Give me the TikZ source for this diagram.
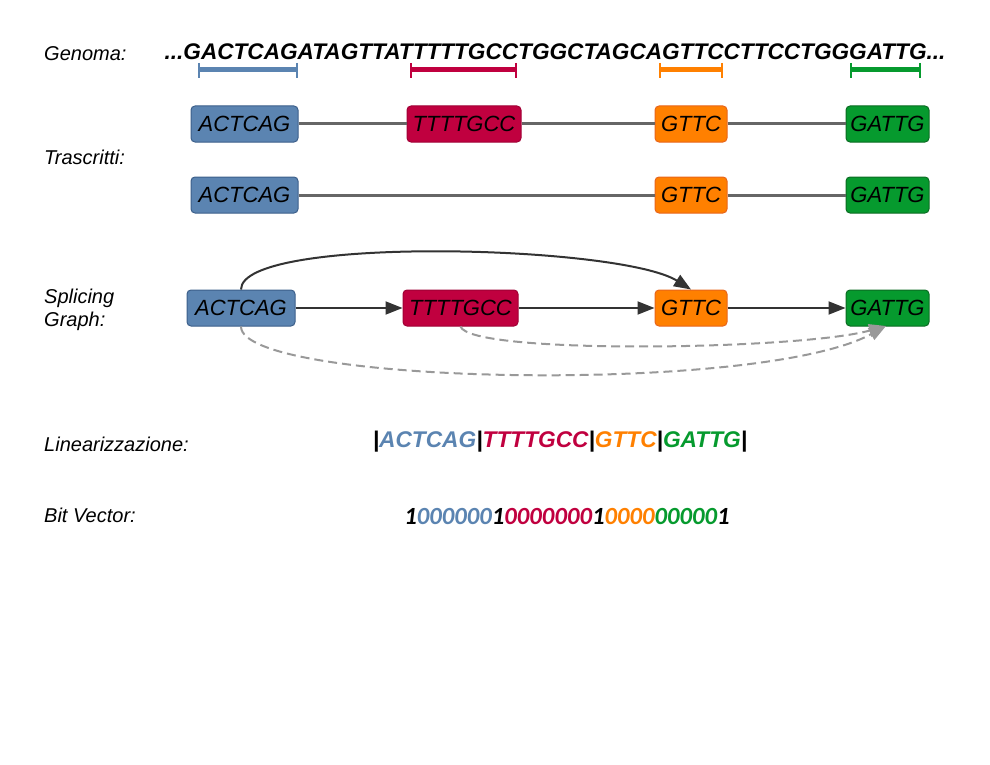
\documentclass[tikz,border=0pt]{standalone}
\usepackage{fontspec}
\setmainfont{Liberation Sans}
\newfontfamily\bitfont{Carlito}
\usetikzlibrary{arrows.meta}
\definecolor{cblue}{HTML}{5B84B1}
\definecolor{cblueD}{HTML}{3C5F8A}
\definecolor{cred}{HTML}{C0003F}
\definecolor{credD}{HTML}{A00035}
\definecolor{corange}{HTML}{FF8000}
\definecolor{corangeD}{HTML}{E8651A}
\definecolor{cgreen}{HTML}{069A2E}
\definecolor{cgreenD}{HTML}{0B6B22}
\tikzset{
  lbl/.style={anchor=west,font=\fontsize{20}{23}\selectfont\itshape,align=left,inner sep=0},
  exon/.style={draw,line width=1pt,rounded corners=4pt,minimum height=36pt,inner sep=0,
    font=\fontsize{22}{26}\selectfont\itshape,text=black},
  eb/.style={exon,fill=cblue,draw=cblueD},
  er/.style={exon,fill=cred,draw=credD},
  eo/.style={exon,fill=corange,draw=corangeD},
  eg/.style={exon,fill=cgreen,draw=cgreenD},
  intron/.style={draw=black!60,line width=3pt},
  sg/.style={draw=black!80,line width=2pt,-{Triangle[length=17pt,width=13pt]}},
  sgd/.style={draw=black!40,line width=2pt,dash pattern=on 9pt off 5pt,-{Triangle[length=17pt,width=13pt]}},
  brk/.style={line width=5pt},
  tick/.style={line width=2pt},
}
\begin{document}
\begin{tikzpicture}[x=1pt,y=-1pt]
\useasboundingbox (0,0) rectangle (990,765);
% labels
\node[lbl] (lg) at (44,54) {Genoma:};
\node[lbl] (lt) at (44,157) {Trascritti:};
\node[lbl] (ls) at (44,310) {Splicing\\Graph:};
\node[lbl] (ll) at (44,444) {Linearizzazione:};
\node[lbl] (lb) at (44,515) {Bit Vector:};
% genome
\node[inner sep=0,font=\fontsize{22.6}{26}\selectfont\bfseries\itshape] (gen) at (555,52) {...GACTCAGATAGTTATTTTTGCCTGGCTAGCAGTTCCTTCCTGGGATTG...};
\foreach \a/\b/\c in {199/297/cblue,411/516/cred,660/722/corange,851/920/cgreen}{
  \draw[brk,\c] (\a,70) -- (\b,70);
  \draw[tick,\c] (\a,63) -- (\a,78);
  \draw[tick,\c] (\b,63) -- (\b,78);
}
% transcript 1
\node[eb,minimum width=107pt] (a1) at (244.5,124) {ACTCAG};
\node[er,minimum width=114pt] (b1) at (464,124) {TTTTGCC};
\node[eo,minimum width=72pt] (c1) at (691,124) {GTTC};
\node[eg,minimum width=83pt] (d1) at (887.5,124) {GATTG};
\draw[intron] (a1) -- (b1);
\draw[intron] (b1) -- (c1);
\draw[intron] (c1) -- (d1);
% transcript 2
\node[eb,minimum width=107pt] (a2) at (244.5,195) {ACTCAG};
\node[eo,minimum width=72pt] (c2) at (691,195) {GTTC};
\node[eg,minimum width=83pt] (d2) at (887.5,195) {GATTG};
\draw[intron] (a2) -- (c2);
\draw[intron] (c2) -- (d2);
% splicing graph
\node[eb,minimum width=108pt] (a3) at (241,308) {ACTCAG};
\node[er,minimum width=115pt] (b3) at (460.5,308) {TTTTGCC};
\node[eo,minimum width=72pt] (c3) at (691,308) {GTTC};
\node[eg,minimum width=83pt] (d3) at (887.5,308) {GATTG};
\draw[sg] (a3) -- (b3);
\draw[sg] (b3) -- (c3);
\draw[sg] (c3) -- (d3);
\draw[sg] (a3.north) .. controls (241,235) and (620,245) .. (c3.north);
\coordinate (dt) at (886,326);
\draw[sgd] (b3.south) .. controls (470,355) and (800,350) .. (dt);
\draw[sgd] (a3.south) .. controls (241,385) and (760,395) .. (dt);
% linearization
\node[inner sep=0,font=\fontsize{22.7}{26}\selectfont\bfseries\itshape] (lin) at (560,442)
  {|\textcolor{cblue}{ACTCAG}|\textcolor{cred}{TTTTGCC}|\textcolor{corange}{GTTC}|\textcolor{cgreen}{GATTG}|};
% bit vector
\node[inner sep=0,font=\fontsize{24.7}{28}\bitfont\bfseries\itshape] (bv) at (567,516)
  {1\textcolor{cblue}{000000}1\textcolor{cred}{0000000}1\textcolor{corange}{0000}\textcolor{cgreen}{00000}1};
\end{tikzpicture}
\end{document}
